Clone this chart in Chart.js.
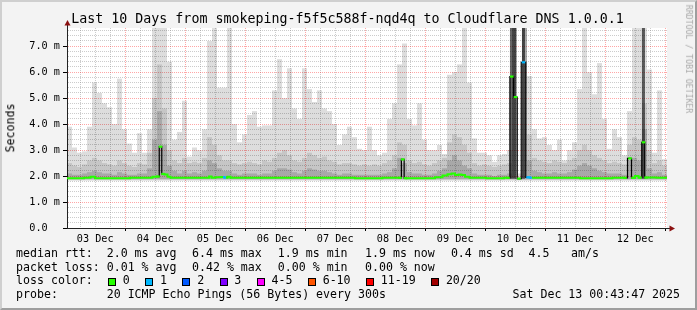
<!DOCTYPE html>
<html>
<head>
<meta charset="utf-8">
<script src="https://cdn.jsdelivr.net/npm/chart.js@4/dist/chart.umd.min.js"></script>
<style>
	body { margin: 0; }
	#frame {
		position: absolute; left: 0; top: 0; width: 697px; height: 310px; box-sizing: border-box;
		background: #f3f3f3; border-style: solid; border-width: 2px;
		border-color: #cfcfcf #9e9e9e #9e9e9e #cfcfcf;
	}
	#chart { position: absolute; left: 0; top: 0; }
	.t {
		position: absolute; font-family: 'DejaVu Sans Mono', monospace; white-space: pre;
		color: #000; line-height: 1; font-size: 11.6px;
	}
	.box { position: absolute; width: 8px; height: 8px; box-sizing: border-box; border: 1px solid #000; }
</style>
</head>
<body>
<div id="frame"></div>
<canvas id="chart" width="697" height="310"></canvas>
<div class="t" style="left:71.3px;top:12.4px;font-size:13.3px">Last 10 Days from smokeping-f5f5c588f-nqd4q to Cloudflare DNS 1.0.0.1</div>
<div class="t" style="left:10.5px;top:128px;transform:translate(-50%,-50%) rotate(-90deg)">Seconds</div>
<div class="t" style="left:689px;top:59px;font-size:8.2px;color:#a8a8a8;transform:translate(-50%,-50%) rotate(90deg)">RRDTOOL / TOBI OETIKER</div>
<div id="legend"></div>
<script>
// hours since 03 Dec 00:00, graph runs 03 Dec 00:43 -> 13 Dec 00:43
const START_HOUR = 0.72
const END_HOUR = 240.72
const BIN_HOURS = 2

const dayLabels = ['03 Dec', '04 Dec', '05 Dec', '06 Dec', '07 Dec', '08 Dec', '09 Dec', '10 Dec', '11 Dec', '12 Dec']
const yTickLabels = ['0.0  ', '1.0 m', '2.0 m', '3.0 m', '4.0 m', '5.0 m', '6.0 m', '7.0 m']

// smoke, one value per 2h bin (ms): outer ping range, middle band, inner band
const smokeTop = [
	3.9, 3.1, 2.9, 2.95, 3.9, 5.6, 5.2, 4.8, 4.65, 4.0, 5.75, 3.8,
	3.25, 2.9, 3.65, 2.9, 3.8, 7.8, 7.8, 7.8, 6.4, 3.4, 3.7, 4.9,
	2.75, 3.1, 3.0, 3.8, 7.2, 7.8, 5.4, 5.4, 7.8, 4.0, 3.3, 3.6,
	4.35, 4.5, 3.9, 3.95, 3.95, 5.3, 6.5, 5.0, 6.15, 4.6, 4.2, 6.15,
	5.35, 4.85, 5.3, 4.6, 4.5, 4.0, 3.2, 3.6, 3.9, 3.5, 3.05, 3.0,
	3.9, 3.0, 2.8, 2.9, 4.2, 4.8, 6.3, 7.1, 4.2, 3.95, 4.8, 3.4,
	3.0, 3.0, 3.2, 2.85, 5.9, 6.0, 6.3, 7.8, 5.6, 3.45, 2.9, 2.9,
	2.8, 2.55, 2.8, 2.85, 3.0, 7.8, 2.1, 7.8, 5.85, 3.8, 3.45, 3.5,
	3.2, 3.0, 3.4, 2.6, 3.0, 3.3, 5.35, 7.8, 6.0, 5.15, 6.35, 4.2,
	3.05, 3.8, 3.5, 2.8, 4.5, 7.8, 7.8, 7.8, 6.1, 2.9, 5.3, 2.65,
]
const smokeMid = [
	2.5, 2.4, 2.35, 2.45, 2.6, 2.7, 2.6, 2.5, 2.45, 2.4, 2.6, 2.5,
	2.4, 2.35, 2.5, 2.45, 2.9, 5.0, 6.3, 4.6, 3.0, 2.6, 2.5, 2.7,
	2.5, 2.55, 2.5, 2.7, 3.5, 3.2, 2.8, 2.6, 2.6, 2.5, 2.45, 2.5,
	2.55, 2.5, 2.45, 2.6, 2.55, 2.7, 2.9, 3.0, 2.8, 2.6, 2.55, 2.7,
	2.9, 2.8, 2.7, 2.75, 2.6, 2.55, 2.45, 2.5, 2.5, 2.45, 2.4, 2.45,
	2.4, 2.45, 2.4, 2.5, 2.6, 2.8, 3.3, 3.2, 2.6, 2.5, 2.55, 2.45,
	2.4, 2.5, 2.6, 2.7, 3.3, 3.6, 3.5, 3.2, 2.9, 2.5, 2.4, 2.45,
	2.4, 2.35, 2.4, 2.45, 2.5, 7.8, 1.95, 7.8, 3.6, 2.7, 2.6, 2.55,
	2.5, 2.6, 2.55, 2.5, 2.6, 2.7, 3.0, 3.2, 3.0, 2.8, 2.7, 2.6,
	2.5, 2.55, 2.5, 2.45, 3.2, 3.5, 3.4, 4.8, 3.0, 2.5, 2.6, 2.4,
]
const smokeDark = [
	2.1, 2.05, 2.05, 2.1, 2.15, 2.2, 2.15, 2.1, 2.1, 2.05, 2.15, 2.1,
	2.05, 2.05, 2.1, 2.1, 2.3, 3.4, 4.5, 3.2, 2.4, 2.2, 2.1, 2.2,
	2.1, 2.15, 2.1, 2.2, 2.6, 2.5, 2.3, 2.2, 2.2, 2.1, 2.05, 2.1,
	2.1, 2.1, 2.05, 2.1, 2.1, 2.2, 2.3, 2.3, 2.25, 2.15, 2.1, 2.2,
	2.3, 2.25, 2.2, 2.2, 2.15, 2.1, 2.05, 2.1, 2.1, 2.05, 2.05, 2.05,
	2.05, 2.05, 2.05, 2.1, 2.15, 2.3, 2.7, 2.5, 2.15, 2.1, 2.1, 2.05,
	2.05, 2.1, 2.2, 2.3, 2.6, 2.8, 2.6, 2.4, 2.3, 2.1, 2.05, 2.05,
	2.05, 2.0, 2.05, 2.05, 2.1, 7.8, 1.93, 7.8, 2.6, 2.2, 2.15, 2.1,
	2.1, 2.15, 2.1, 2.1, 2.15, 2.25, 2.4, 2.5, 2.4, 2.3, 2.2, 2.15,
	2.1, 2.1, 2.1, 2.05, 2.6, 2.7, 2.6, 3.8, 2.3, 2.1, 2.15, 2.05,
]

// narrow all-pings-slow columns
const spikeHours = [178.5, 179.7, 183.3, 231.3]
const spikeTops = [7.8, 7.8, 7.8, 7.8]

// median rtt (ms) and loss bucket index
const medianHours = [
	0.72, 5.92, 9.12, 11.12, 12.72, 21.92, 29.92, 33.92, 35.92, 37.12,
	38.12, 39.12, 40.32, 41.52, 42.72, 53.92, 57.12, 57.92, 59.12, 61.12,
	63.12, 64.32, 65.52, 66.72, 73.92, 93.92, 109.92, 121.92, 131.92, 133.92,
	135.04, 136.12, 145.92, 149.92, 151.92, 153.92, 155.12, 156.72, 157.92, 159.12,
	160.72, 162.72, 173.92, 177.12, 178.64, 180.12, 181.52, 183.32, 185.12, 186.72,
	197.92, 213.92, 223.92, 225.92, 227.12, 228.72, 229.92, 231.32, 232.32, 240.72,
]
const medianMs = [
	1.92, 1.92, 1.93, 1.97, 1.92, 1.92, 1.93, 1.93, 1.97, 1.98,
	3.13, 2.08, 2.06, 1.97, 1.93, 1.93, 1.93, 1.98, 1.93, 1.95,
	1.96, 1.93, 1.97, 1.93, 1.93, 1.93, 1.93, 1.92, 1.93, 1.93,
	2.64, 1.92, 1.92, 1.95, 2.02, 2.07, 2.1, 2.04, 2.06, 2.04,
	1.97, 1.93, 1.92, 1.93, 5.83, 5.04, 1.9, 6.38, 1.95, 1.93,
	1.93, 1.92, 1.93, 2.68, 1.93, 2.0, 1.94, 3.3, 1.94, 1.93,
]
const medianLoss = [
	0, 0, 0, 0, 0, 0, 0, 0, 0, 0,
	0, 0, 0, 0, 0, 0, 0, 0, 0, 0,
	1, 0, 0, 0, 0, 0, 0, 0, 0, 0,
	0, 0, 0, 0, 0, 0, 0, 0, 0, 0,
	0, 0, 0, 0, 0, 0, 0, 1, 1, 0,
	0, 0, 0, 0, 0, 0, 0, 0, 0, 0,
]

const lossLabels = ['0', '1', '2', '3', '4-5', '6-10', '11-19', '20/20']
const lossColors = ['#26ff00', '#00b8ff', '#0059ff', '#7e00ff', '#ff00ff', '#ff5500', '#ff0000', '#a10000']

const MAJOR = 'rgba(255,0,0,0.35)'
const MINOR = 'rgba(128,128,128,0.4)'
const tickFont = { family: 'DejaVu Sans Mono', size: 10.2 }

const isMajor = (v) => Math.abs(v - Math.round(v)) < 1e-6
const binX = (i) => START_HOUR + BIN_HOURS * (i + 0.5)

function smokeLayer(values, low, color, order) {
	return {
		type: 'bar',
		data: values.map((v, i) => ({ x: binX(i), y: [low, v] })),
		backgroundColor: color,
		borderWidth: 0,
		inflateAmount: 0,
		barThickness: 5,
		grouped: false,
		clip: 0,
		order: order,
	}
}

const jump = (a, b) => Math.abs(a - b) > 0.3
const marked = medianMs.map((v, i) =>
	(i > 0 && jump(v, medianMs[i - 1])) || (i < medianMs.length - 1 && jump(v, medianMs[i + 1])))

const framePlugin = {
	id: 'frame',
	beforeDraw(chart) {
		const { ctx, chartArea: a } = chart
		ctx.save()
		ctx.fillStyle = '#fff'
		ctx.fillRect(a.left, a.top, a.right - a.left, a.bottom - a.top)
		ctx.restore()
	},
	afterDraw(chart) {
		const { ctx, chartArea: a } = chart
		ctx.save()
		ctx.strokeStyle = '#222'
		ctx.lineWidth = 1
		ctx.beginPath()
		ctx.moveTo(a.left + 0.5, a.top)
		ctx.lineTo(a.left + 0.5, a.top - 3)
		ctx.moveTo(a.right, a.bottom + 0.5)
		ctx.lineTo(a.right + 3, a.bottom + 0.5)
		ctx.stroke()
		ctx.fillStyle = '#8b1010'
		ctx.beginPath()
		ctx.moveTo(a.left + 0.5, a.top - 8)
		ctx.lineTo(a.left + 3.5, a.top - 2.5)
		ctx.lineTo(a.left - 2.5, a.top - 2.5)
		ctx.closePath()
		ctx.fill()
		ctx.beginPath()
		ctx.moveTo(a.right + 8, a.bottom + 0.5)
		ctx.lineTo(a.right + 2.5, a.bottom + 3.5)
		ctx.lineTo(a.right + 2.5, a.bottom - 2.5)
		ctx.closePath()
		ctx.fill()
		ctx.restore()
	},
}

new Chart(document.getElementById('chart').getContext('2d'), {
	type: 'line',
	data: {
		datasets: [
			smokeLayer(smokeTop, 1.82, 'rgba(0,0,0,0.135)', 6),
			smokeLayer(smokeMid, 1.86, 'rgba(0,0,0,0.10)', 5),
			smokeLayer(smokeDark, 1.88, 'rgba(0,0,0,0.15)', 4),
			{
				type: 'bar',
				data: spikeHours.map((h, i) => ({ x: h, y: [1.9, spikeTops[i]] })),
				backgroundColor: 'rgba(0,0,0,0.6)',
				borderWidth: 0,
				inflateAmount: 0,
				barThickness: 3,
				grouped: false,
				clip: 0,
				order: 3,
			},
			{
				type: 'line',
				data: medianHours.map((h, i) => ({ x: h, y: medianMs[i] })),
				stepped: 'middle',
				borderWidth: 2,
				borderColor: lossColors[0],
				segment: {
					borderColor: (c) => jump(c.p0.parsed.y, c.p1.parsed.y) ? '#000' : lossColors[medianLoss[c.p0DataIndex]],
					borderWidth: (c) => jump(c.p0.parsed.y, c.p1.parsed.y) ? 1.2 : 2,
				},
				pointStyle: 'line',
				pointRadius: (c) => marked[c.dataIndex] ? 1.8 : 0,
				pointBorderWidth: 2.2,
				pointBorderColor: (c) => lossColors[medianLoss[c.dataIndex]],
				clip: 2,
				order: 0,
			},
		],
	},
	options: {
		responsive: false,
		animation: false,
		devicePixelRatio: 1,
		events: [],
		layout: { padding: { left: 0, right: 30, top: 28, bottom: 62 } },
		plugins: { legend: { display: false }, tooltip: { enabled: false } },
		scales: {
			x: {
				type: 'linear',
				min: START_HOUR,
				max: END_HOUR,
				offset: false,
				afterBuildTicks: (s) => {
					s.ticks = []
					for (let h = 6; h <= 240; h += 6) s.ticks.push({ value: h })
				},
				afterFit: (s) => { s.height = 20 },
				ticks: {
					autoSkip: false,
					maxRotation: 0,
					minRotation: 0,
					padding: 2,
					color: '#000',
					font: tickFont,
					callback: (v) => (v % 24 === 12 ? dayLabels[(v - 12) / 24] : ''),
				},
				grid: {
					offset: false,
					color: (c) => (c.tick && c.tick.value % 24 === 0 ? MAJOR : MINOR),
					tickColor: (c) => (c.tick && c.tick.value % 24 === 0 ? '#000' : 'rgba(0,0,0,0)'),
					tickLength: 3,
				},
				border: { color: '#222', dash: [1, 1] },
			},
			y: {
				type: 'linear',
				min: 0,
				max: 7.7,
				afterBuildTicks: (s) => {
					s.ticks = []
					for (let i = 0; i <= 38; i++) s.ticks.push({ value: i / 5 })
				},
				afterFit: (s) => { s.width = 67 },
				ticks: {
					autoSkip: false,
					padding: 3,
					color: '#000',
					font: tickFont,
					callback: (v) => (isMajor(v) ? yTickLabels[Math.round(v)] : ''),
				},
				grid: {
					color: (c) => (c.tick && isMajor(c.tick.value) ? MAJOR : MINOR),
					tickColor: (c) => (c.tick && isMajor(c.tick.value) ? '#000' : 'rgba(0,0,0,0)'),
					tickLength: 4,
				},
				border: { color: '#222', dash: [1, 1] },
			},
		},
	},
	plugins: [framePlugin],
})

// text legend under the graph
const legend = document.getElementById('legend')
function put(text, x, top) {
	const d = document.createElement('div')
	d.className = 't'
	d.style.left = x + 'px'
	d.style.top = top + 'px'
	d.textContent = text
	legend.appendChild(d)
}
const rows = [248.2, 261.7, 275.2, 288.7]
put('median rtt:', 16, rows[0])
put('2.0 ms avg', 106.7, rows[0])
put('6.4 ms max', 192, rows[0])
put('1.9 ms min', 277.8, rows[0])
put('1.9 ms now', 365, rows[0])
put('0.4 ms sd', 450.9, rows[0])
put('4.5', 528.6, rows[0])
put('am/s', 571, rows[0])
put('packet loss:', 16, rows[1])
put('0.01 % avg', 106.7, rows[1])
put('0.42 % max', 192, rows[1])
put('0.00 % min', 277.8, rows[1])
put('0.00 % now', 365, rows[1])
put('loss color:', 16, rows[2])
let bx = 108
lossLabels.forEach((label, i) => {
	const b = document.createElement('div')
	b.className = 'box'
	b.style.left = bx + 'px'
	b.style.top = '278px'
	b.style.background = lossColors[i]
	legend.appendChild(b)
	put(label, bx + 14.8, rows[2])
	bx = bx + 14.8 + label.length * 6.98 + 15.4
})
put('probe:', 16, rows[3])
put('20 ICMP Echo Pings (56 Bytes) every 300s', 106.7, rows[3])
put('Sat Dec 13 00:43:47 2025', 512.5, rows[3])
</script>
</body>
</html>
